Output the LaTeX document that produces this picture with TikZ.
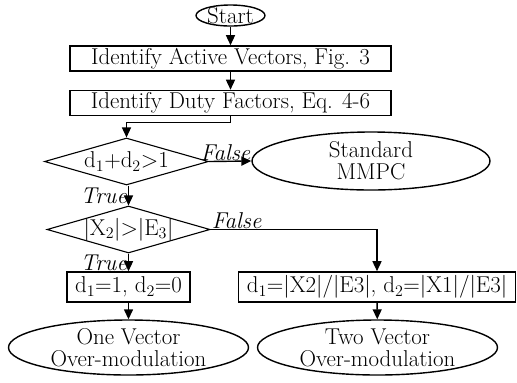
\documentclass[tikz,border=0pt]{standalone}
\usepackage{fix-cm}
\usepackage{fontspec}
\usetikzlibrary{shapes.geometric,arrows.meta}
\begin{document}
\begin{tikzpicture}[x=1bp,y=-1bp,
  every node/.style={font=\fontsize{23}{22}\selectfont},
  line/.style={line width=1.4bp},
  arr/.style={line, -{Triangle[length=10bp,width=9bp]}},
  boxnode/.style={draw, line width=1.6bp, inner sep=0pt, anchor=center},
  ovalnode/.style={ellipse, draw, line width=1.4bp, inner sep=0pt},
  decnode/.style={diamond, draw, line width=1.1bp, inner sep=0pt},
  lbl/.style={font=\fontsize{23}{22}\selectfont\itshape, inner sep=1bp}]
\useasboundingbox (0,0) rectangle (517,382);
% Start
\node[ovalnode, minimum width=69bp, minimum height=21bp] (start) at (230.5,15.5) {};
\node at (start) {Start};
% boxes
\node[boxnode, minimum width=321bp, minimum height=25bp] (b1) at (230.5,58.5) {Identify Active Vectors, Fig. 3};
\node[boxnode, minimum width=321bp, minimum height=25bp] (b2) at (230.5,103) {Identify Duty Factors, Eq. 4-6};
% decision 1
\node[decnode, minimum width=164bp, minimum height=47bp] (d1) at (126.5,161.5) {};
\node at (d1) {$\mathrm{d}_1{+}\mathrm{d}_2{>}1$};
% Standard MMPC
\node[ovalnode, minimum width=238bp, minimum height=58bp] (std) at (371,161) {};
\node[align=center] at (std) {Standard\\MMPC};
% decision 2
\node[decnode, minimum width=163bp, minimum height=47bp] (d2) at (128.5,229.5) {};
\node at (d2) {$|\mathrm{X}_2|{>}|\mathrm{E}_3|$};
% boxes bottom
\node[boxnode, minimum width=123bp, minimum height=30bp] (b3) at (128.5,287) {$\mathrm{d}_1{=}1$, $\mathrm{d}_2{=}0$};
\node[boxnode, minimum width=277bp, minimum height=30bp] (b4) at (377,287) {$\mathrm{d}_1{=}|\mathrm{X2}|/|\mathrm{E3}|$, $\mathrm{d}_2{=}|\mathrm{X1}|/|\mathrm{E3}|$};
% end ellipses
\node[ovalnode, minimum width=240bp, minimum height=55bp] (e1) at (128.5,347.5) {};
\node[align=center] at (e1) {One Vector\\Over-modulation};
\node[ovalnode, minimum width=240bp, minimum height=55bp] (e2) at (377.5,347.5) {};
\node[align=center] at (e2) {Two Vector\\Over-modulation};
% connectors
\draw[arr] (start) -- (b1);
\draw[arr] (b1) -- (b2);
\coordinate (c1) at (126.5,122.5);
\draw[arr] (b2.south) |- (c1) -- (d1.north);
\draw[arr] (d1.east) -- (std.west);
\node[lbl, anchor=south] (f1) at (225.5,161.5) {False};
\draw[arr] (d1.south -| d2.north) -- node[lbl, left] {True} (d2.north);
\draw[arr] (d2.east) -| (b4.north);
\node[lbl, anchor=south west] (f2) at (d2.east) {False};
\draw[arr] (d2.south) -- node[lbl, left] {True} (b3.north);
\draw[arr] (b3) -- (e1);
\draw[arr] (b4) -- (e2);
\end{tikzpicture}
\end{document}
